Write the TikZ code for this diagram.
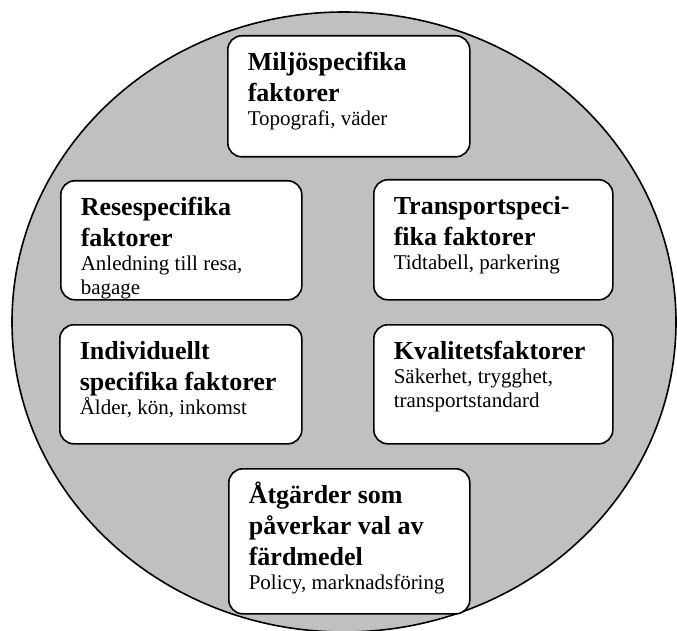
\documentclass[tikz,border=0pt]{standalone}
\usepackage{fontspec}
\setmainfont{Liberation Serif}
\definecolor{ringgray}{RGB}{192,192,192}
\newcommand{\headfont}{\fontsize{26pt}{31pt}\selectfont\bfseries}
\newcommand{\bodyfont}{\fontsize{21pt}{24pt}\selectfont\mdseries}
% box text: bold heading, then plain examples
\newcommand{\faktor}[4]{\parbox[t][#2][t]{#1}{\raggedright\leftskip=20pt
  \rule{0pt}{35pt}\headfont #3\par\bodyfont #4}}

\tikzset{faktorbox/.style={draw, line width=1.6pt, rounded corners=14pt, fill=white,
    anchor=north west, inner sep=0pt}}

\begin{document}
\begin{tikzpicture}[x=1pt,y=-1pt]
	\useasboundingbox (0,0) rectangle (677,631);
	\clip (0,0) rectangle (677,631);

	\draw[fill=ringgray, line width=1.6pt] (344,322) ellipse (332 and 310);

	\node[faktorbox] (miljo) at (227,35) {\faktor{242pt}{121pt}{Miljöspecifika\\faktorer}{Topografi, väder}};

	\node[faktorbox] (rese) at (60,180) {\faktor{241pt}{119pt}{Resespecifika\\faktorer}{Anledning till resa,\\bagage}};
	\node[faktorbox] (transport) at (373,179) {\faktor{239pt}{120pt}{Transportspeci-\\fika faktorer}{Tidtabell, parkering}};

	\node[faktorbox] (individ) at (59,324) {\faktor{242pt}{119pt}{Individuellt\\specifika faktorer}{Ålder, kön, inkomst}};
	\node[faktorbox] (kvalitet) at (373,324) {\faktor{239pt}{119pt}{Kvalitetsfaktorer}{Säkerhet, trygghet,\\transportstandard}};

	\node[faktorbox] (atgarder) at (228,468) {\faktor{241pt}{145pt}{Åtgärder som\\påverkar val av\\färdmedel}{Policy, marknadsföring}};
\end{tikzpicture}
\end{document}
